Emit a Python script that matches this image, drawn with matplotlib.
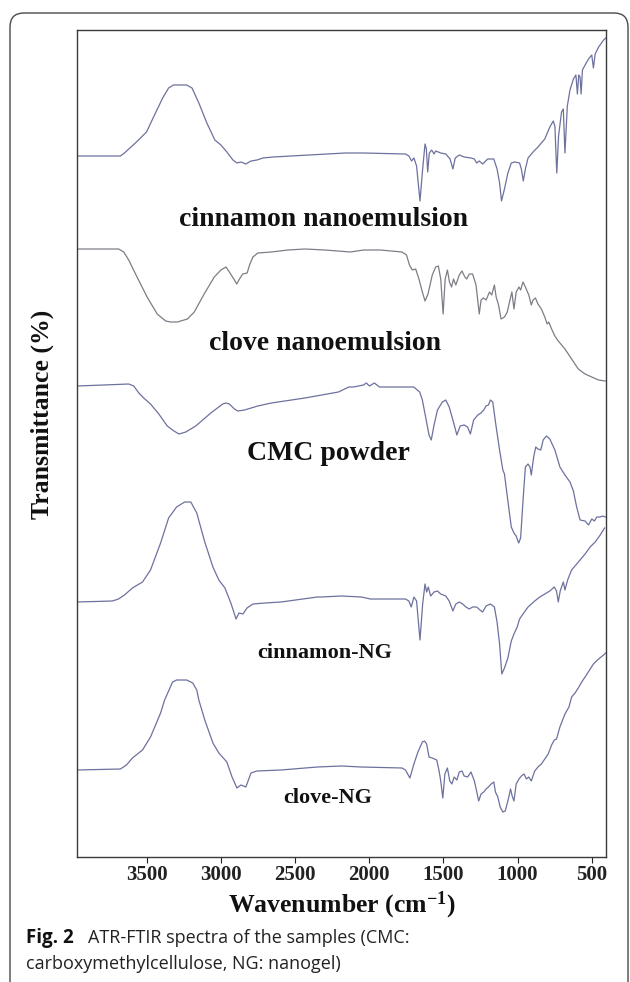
import matplotlib
matplotlib.use("Agg")
import matplotlib.pyplot as plt
from matplotlib.patches import FancyBboxPatch

plt.rcParams['mathtext.fontset'] = 'custom'
plt.rcParams['mathtext.rm'] = 'Liberation Serif:bold'
plt.rcParams['mathtext.it'] = 'Liberation Serif:bold'
plt.rcParams['mathtext.bf'] = 'Liberation Serif:bold'

# ---------------- data: (wavenumber cm-1, offset transmittance a.u.) ----------------
cinnamon_ne = [(3970, 701), (3679, 701), (3652, 704), (3571, 715), (3503, 725), (3449, 742), (3394, 759),
               (3354, 769), (3321, 772), (3232, 772), (3196, 769), (3150, 754), (3096, 734), (3042, 717),
               (3001, 712), (2961, 705), (2920, 697), (2893, 694), (2866, 695), (2833, 693), (2798, 696),
               (2758, 697), (2717, 699), (2650, 700), (2161, 704), (2038, 704), (1756, 703), (1733, 701),
               (1715, 696), (1699, 699), (1681, 691), (1658, 656), (1640, 688), (1624, 713), (1615, 708),
               (1606, 685), (1595, 704), (1579, 707), (1563, 703), (1552, 706), (1518, 704), (1484, 703),
               (1455, 698), (1436, 688), (1420, 699), (1393, 702), (1360, 700), (1314, 699), (1291, 698),
               (1276, 694), (1258, 696), (1235, 693), (1201, 698), (1160, 698), (1138, 688), (1121, 674),
               (1108, 656), (1088, 668), (1065, 684), (1042, 694), (1019, 695), (986, 694), (974, 688),
               (961, 676), (947, 688), (929, 699), (895, 705), (862, 710), (816, 718), (782, 730),
               (759, 736), (748, 731), (735, 684), (723, 721), (703, 745), (691, 748), (680, 704),
               (664, 751), (646, 767), (623, 778), (606, 782), (596, 763), (587, 782), (578, 780),
               (571, 763), (562, 787), (544, 792), (521, 798), (499, 802), (488, 789), (476, 803),
               (453, 810), (419, 817), (404, 819)]

clove_ne = [(3970, 608), (3691, 608), (3657, 605), (3623, 597), (3567, 580), (3499, 560), (3431, 543),
            (3374, 536), (3340, 535), (3295, 535), (3227, 538), (3181, 545), (3114, 563), (3046, 580),
            (3001, 587), (2967, 590), (2944, 585), (2910, 577), (2894, 573), (2876, 578), (2854, 583),
            (2824, 584), (2808, 592), (2785, 600), (2752, 604), (2661, 605), (2548, 607), (2434, 608),
            (2299, 607), (2129, 605), (2038, 607), (1926, 607), (1779, 605), (1749, 602), (1729, 592),
            (1710, 587), (1687, 588), (1665, 578), (1642, 565), (1624, 556), (1604, 563), (1575, 582),
            (1552, 590), (1534, 591), (1518, 578), (1502, 543), (1488, 578), (1473, 587), (1459, 575),
            (1445, 570), (1432, 578), (1416, 572), (1393, 582), (1375, 586), (1355, 580), (1343, 578),
            (1325, 583), (1303, 583), (1280, 572), (1258, 543), (1246, 557), (1230, 559), (1212, 557),
            (1189, 565), (1174, 562), (1156, 572), (1144, 560), (1128, 552), (1111, 538), (1088, 540),
            (1069, 545), (1054, 555), (1038, 565), (1024, 548), (1009, 565), (990, 570), (979, 567),
            (963, 575), (947, 570), (924, 562), (907, 552), (895, 557), (879, 559), (862, 553),
            (839, 548), (816, 540), (800, 533), (789, 535), (770, 528), (748, 521), (725, 516),
            (680, 508), (635, 498), (590, 488), (544, 483), (499, 480), (453, 477), (408, 476)]

cmc_powder = [(3970, 471), (3793, 472), (3623, 473), (3589, 471), (3555, 464), (3522, 459), (3476, 453),
              (3420, 443), (3363, 431), (3318, 426), (3284, 423), (3238, 425), (3171, 431), (3069, 444),
              (2989, 453), (2967, 454), (2944, 453), (2910, 448), (2887, 446), (2842, 447), (2752, 451),
              (2661, 454), (2434, 459), (2208, 465), (2138, 470), (2107, 470), (2039, 472), (2020, 474),
              (1999, 471), (1966, 474), (1931, 470), (1700, 470), (1660, 465), (1642, 457), (1620, 440),
              (1597, 422), (1582, 417), (1563, 432), (1540, 447), (1507, 455), (1484, 457), (1461, 450),
              (1436, 437), (1409, 422), (1387, 431), (1360, 432), (1337, 430), (1318, 423), (1296, 437),
              (1268, 442), (1246, 444), (1228, 447), (1212, 451), (1196, 452), (1183, 457), (1167, 455),
              (1144, 430), (1121, 407), (1099, 387), (1088, 383), (1065, 356), (1042, 330), (1024, 324),
              (1009, 321), (992, 314), (979, 319), (963, 356), (947, 390), (929, 393), (916, 390),
              (907, 382), (891, 400), (877, 410), (862, 408), (843, 407), (827, 417), (805, 421),
              (782, 418), (748, 407), (714, 390), (680, 382), (646, 375), (623, 366), (601, 350),
              (578, 337), (544, 336), (521, 332), (499, 338), (481, 336), (465, 340), (442, 340),
              (426, 341), (408, 340)]

cinnamon_ng = [(3970, 255), (3733, 256), (3692, 258), (3652, 262), (3598, 269), (3530, 275), (3476, 287),
               (3408, 314), (3354, 339), (3300, 350), (3246, 355), (3204, 355), (3164, 344), (3110, 315),
               (3055, 290), (3015, 277), (2974, 269), (2934, 254), (2899, 238), (2879, 244), (2852, 243),
               (2825, 249), (2785, 253), (2703, 254), (2595, 255), (2351, 260), (2324, 260), (2188, 261),
               (2053, 260), (1993, 258), (1756, 258), (1733, 256), (1717, 250), (1699, 260), (1681, 256),
               (1658, 217), (1640, 253), (1624, 273), (1613, 265), (1602, 270), (1586, 261), (1563, 265),
               (1540, 266), (1518, 263), (1484, 261), (1461, 256), (1436, 246), (1416, 253), (1393, 255),
               (1370, 253), (1348, 250), (1325, 248), (1303, 250), (1276, 250), (1253, 247), (1235, 245),
               (1212, 251), (1183, 253), (1156, 250), (1138, 235), (1121, 213), (1106, 183), (1088, 189),
               (1065, 199), (1042, 216), (1024, 223), (1002, 230), (986, 238), (963, 243), (929, 250),
               (884, 256), (850, 260), (816, 263), (782, 266), (752, 270), (737, 266), (725, 255),
               (712, 266), (691, 275), (680, 267), (662, 277), (635, 287), (601, 293), (578, 297),
               (544, 303), (510, 310), (476, 315), (442, 322), (413, 329)]

clove_ng = [(3970, 87), (3679, 88), (3638, 92), (3598, 99), (3530, 107), (3476, 120), (3408, 144),
            (3381, 157), (3327, 175), (3300, 177), (3232, 177), (3191, 174), (3164, 167), (3150, 157),
            (3110, 137), (3055, 114), (3015, 104), (2961, 95), (2926, 80), (2893, 69), (2866, 72),
            (2833, 70), (2798, 84), (2758, 86), (2595, 87), (2351, 90), (2188, 91), (2053, 90),
            (1779, 89), (1756, 87), (1726, 79), (1699, 93), (1672, 105), (1642, 115), (1627, 116),
            (1613, 113), (1597, 100), (1575, 99), (1545, 97), (1529, 86), (1518, 76), (1504, 59),
            (1490, 83), (1473, 89), (1457, 76), (1443, 73), (1427, 80), (1409, 77), (1393, 85),
            (1375, 86), (1360, 81), (1337, 80), (1314, 85), (1291, 76), (1276, 66), (1262, 56),
            (1246, 63), (1228, 65), (1212, 68), (1196, 70), (1178, 73), (1160, 75), (1149, 65),
            (1133, 60), (1117, 50), (1099, 45), (1083, 46), (1065, 56), (1047, 68), (1036, 61),
            (1024, 56), (1009, 73), (990, 78), (974, 81), (956, 83), (940, 78), (924, 80), (907, 76),
            (884, 86), (862, 90), (839, 93), (816, 98), (793, 103), (770, 112), (752, 117), (737, 118),
            (714, 130), (680, 143), (653, 150), (635, 160), (612, 164), (590, 169), (567, 175),
            (544, 180), (488, 193), (453, 198), (419, 202), (406, 204)]

sample_names = ["cinnamon nanoemulsion", "clove nanoemulsion", "CMC powder", "cinnamon-NG", "clove-NG"]
x_ticks = [3500, 3000, 2500, 2000, 1500, 1000, 500]

# ---------------- layout / style ----------------
spectra = [cinnamon_ne, clove_ne, cmc_powder, cinnamon_ng, clove_ng]
colors = ['#6d719e', '#7c7d86', '#6d719e', '#6d719e', '#6d719e']
label_xy = [(2306, 637), (2299, 514), (2279, 404), (2299, 204), (2279, 59)]
label_sizes = [20, 20, 20, 16, 16]
SERIF = 'Liberation Serif'
SANS = 'Open Sans'

W, H = 630, 982
fig = plt.figure(figsize=(W / 100, H / 100), dpi=100)

# rounded outer frame (open at the bottom)
frame = FancyBboxPatch((0.10, -0.4), 6.18, 9.69 + 0.4,
                       boxstyle="round,pad=0,rounding_size=0.14",
                       transform=fig.dpi_scale_trans, fill=False,
                       edgecolor='#4a4a4a', linewidth=1.0, clip_on=False)
fig.add_artist(frame)

ax = fig.add_axes([77 / W, 1 - 857 / H, 529 / W, 827 / H])
for spec, col in zip(spectra, colors):
    xs = [p[0] for p in spec]
    ys = [p[1] for p in spec]
    ax.plot(xs, ys, color=col, linewidth=0.9)

for name, (lx, ly), fs in zip(sample_names, label_xy, label_sizes):
    ax.text(lx, ly, name, ha='center', va='center', fontsize=fs,
            fontweight='bold', family=SERIF, color='#111111')

ax.set_xlim(3972, 403)
ax.set_ylim(0, 827)
ax.set_yticks([])
ax.set_xticks(x_ticks)
ax.set_xticklabels([str(t) for t in x_ticks])
ax.tick_params(axis='x', direction='out', length=4, width=0.8, pad=2,
               labelsize=15, colors='#222222')
for lbl in ax.get_xticklabels():
    lbl.set_family(SERIF)
    lbl.set_fontweight('bold')
for s in ax.spines.values():
    s.set_color('#3a3a3a')
    s.set_linewidth(1.0)

ax.set_xlabel("Wavenumber (cm$^{-1}$)", fontsize=18.5, fontweight='bold',
              family=SERIF, labelpad=3, color='#111111')

fig.text(42 / W, 1 - 414 / H, "Transmittance (%)", rotation=90, ha='center', va='center',
         fontsize=18.5, fontweight='bold', family=SERIF, color='#111111')

# caption
fig.text(26 / W, 1 - 938 / H, "Fig. 2", family=SANS, fontweight='bold', fontsize=13.5,
         va='center', ha='left', color='#111111')
fig.text(88 / W, 1 - 938 / H, "ATR-FTIR spectra of the samples (CMC:", family=SANS,
         fontsize=13, va='center', ha='left', color='#222222')
fig.text(26 / W, 1 - 964 / H, "carboxymethylcellulose, NG: nanogel)", family=SANS,
         fontsize=13, va='center', ha='left', color='#222222')

fig.savefig("out.png", dpi=100)
